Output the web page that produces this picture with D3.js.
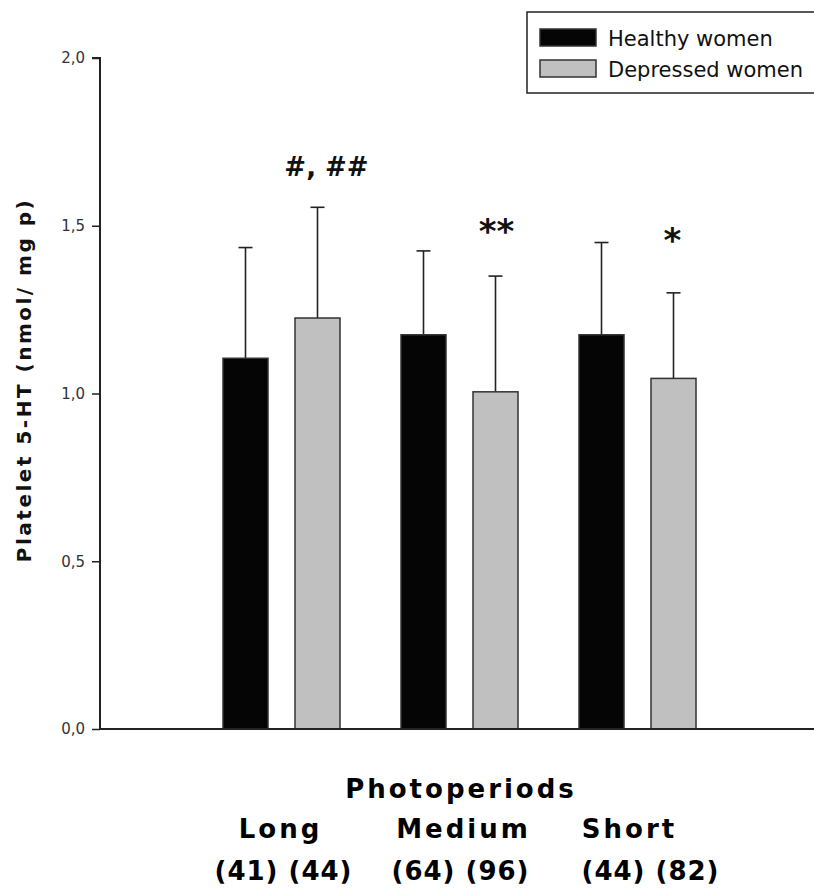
<!DOCTYPE html>
<html>
<head>
<meta charset="utf-8">
<script src="https://cdn.jsdelivr.net/npm/d3@7"></script>
<style>
  body { margin: 0; background: #fff; }
  text { font-family: "DejaVu Sans", Arial, sans-serif; }
</style>
</head>
<body>
<script>
    // data
    const groups = ["Long", "Medium", "Short"];
    const groupN = ["(41) (44)", "(64) (96)", "(44) (82)"];
    const series = ["Healthy women", "Depressed women"];
    const healthy = [1.105, 1.175, 1.175];
    const healthySD = [0.33, 0.25, 0.275];
    const depressed = [1.225, 1.005, 1.045];
    const depressedSD = [0.33, 0.345, 0.255];
    const marks = ["#, ##", "**", "*"];   // over the depressed bars
    const yTicks = [0, 0.5, 1.0, 1.5, 2.0];

    const width = 814, height = 891;
    const colors = ["#050505", "#c0c0c0"];

    const svg = d3.select("body").append("svg")
        .attr("width", width)
        .attr("height", height);

    const y = d3.scaleLinear().domain([0, 2]).range([729, 58]);
    const x0 = d3.scaleBand().domain(groups).range([192.5, 726.5]).padding(0);
    const x1 = d3.scaleBand().domain(series).range([30.5, 147.5]).paddingInner(0.375);

    const rows = [];
    groups.forEach((g, i) => {
        rows.push({g, s: series[0], v: healthy[i], sd: healthySD[i], c: colors[0]});
        rows.push({g, s: series[1], v: depressed[i], sd: depressedSD[i], c: colors[1]});
    });

    // error bars (upper only), drawn before bars
    const eb = svg.append("g").attr("stroke", "#222").attr("stroke-width", 1.6);
    rows.forEach(d => {
        const cx = x0(d.g) + x1(d.s) + x1.bandwidth() / 2;
        eb.append("line").attr("x1", cx).attr("x2", cx).attr("y1", y(d.v)).attr("y2", y(d.v + d.sd));
        eb.append("line").attr("x1", cx - 7).attr("x2", cx + 7).attr("y1", y(d.v + d.sd)).attr("y2", y(d.v + d.sd));
    });

    svg.append("g").selectAll("rect")
        .data(rows)
        .join("rect")
        .attr("x", d => x0(d.g) + x1(d.s))
        .attr("y", d => y(d.v))
        .attr("width", x1.bandwidth())
        .attr("height", d => y(0) - y(d.v))
        .attr("fill", d => d.c)
        .attr("stroke", "#333")
        .attr("stroke-width", 1.5);

    // significance marks
    const markDx = [9, 1, -1];
    const markY = [176, 243, 252];
    svg.append("g").selectAll("text")
        .data(groups)
        .join("text")
        .attr("x", (g, i) => x0(g) + x1(series[1]) + x1.bandwidth() / 2 + markDx[i])
        .attr("y", (g, i) => markY[i])
        .attr("text-anchor", "middle")
        .attr("font-size", (g, i) => i === 0 ? 26 : 34)
        .attr("font-weight", "bold")
        .attr("fill", "#111")
        .text((g, i) => marks[i]);

    // y axis
    const yAxis = svg.append("g")
        .attr("transform", "translate(100,0)")
        .call(d3.axisLeft(y).tickValues(yTicks).tickSize(8).tickPadding(7)
            .tickFormat(d => d3.format(".1f")(d).replace(".", ",")));
    yAxis.select(".domain").attr("stroke", "#222").attr("stroke-width", 2)
        .attr("d", `M-8,${y(2)}H0V${y(0)}`);
    yAxis.selectAll(".tick line").attr("stroke", "#222").attr("stroke-width", 1.5);
    yAxis.selectAll(".tick text").attr("font-size", 15).attr("fill", "#333")
        .attr("font-family", "DejaVu Sans, Arial, sans-serif");

    // x axis line
    svg.append("line")
        .attr("x1", 100).attr("x2", width)
        .attr("y1", y(0)).attr("y2", y(0))
        .attr("stroke", "#222").attr("stroke-width", 2);

    svg.append("text")
        .attr("transform", "translate(31,380) rotate(-90)")
        .attr("text-anchor", "middle")
        .attr("font-size", 20)
        .attr("font-weight", "bold")
        .attr("letter-spacing", 2.5)
        .attr("fill", "#111")
        .text("Platelet 5-HT (nmol/ mg p)");

    // x titles
    svg.append("text")
        .attr("x", 461).attr("y", 798)
        .attr("text-anchor", "middle")
        .attr("font-size", 26).attr("font-weight", "bold")
        .attr("letter-spacing", 3)
        .text("Photoperiods");

    const gdx = [-1, 4, -8];
    svg.append("g").selectAll("text")
        .data(groups)
        .join("text")
        .attr("x", (g, i) => x0(g) + x0.bandwidth() / 2 + gdx[i])
        .attr("y", 838)
        .attr("text-anchor", "middle")
        .attr("font-size", 26).attr("font-weight", "bold")
        .attr("letter-spacing", 3)
        .text(g => g);

    const ndx = [2, 1, 13];
    svg.append("g").selectAll("text")
        .data(groupN)
        .join("text")
        .attr("x", (t, i) => x0(groups[i]) + x0.bandwidth() / 2 + ndx[i])
        .attr("y", 880)
        .attr("text-anchor", "middle")
        .attr("font-size", 26).attr("font-weight", "bold")
        .attr("letter-spacing", 1)
        .text(t => t);

    // legend
    const lg = svg.append("g");
    lg.append("rect")
        .attr("x", 527).attr("y", 12).attr("width", 300).attr("height", 81)
        .attr("fill", "#fff").attr("stroke", "#222").attr("stroke-width", 1.5);
    series.forEach((s, i) => {
        lg.append("rect")
            .attr("x", 540).attr("y", 29 + i * 31).attr("width", 56).attr("height", 17)
            .attr("fill", colors[i]).attr("stroke", "#333").attr("stroke-width", 1.5);
        lg.append("text")
            .attr("x", 608).attr("y", 46 + i * 31)
            .attr("font-size", 21).attr("fill", "#111")
            .text(s);
    });
</script>
</body>
</html>
